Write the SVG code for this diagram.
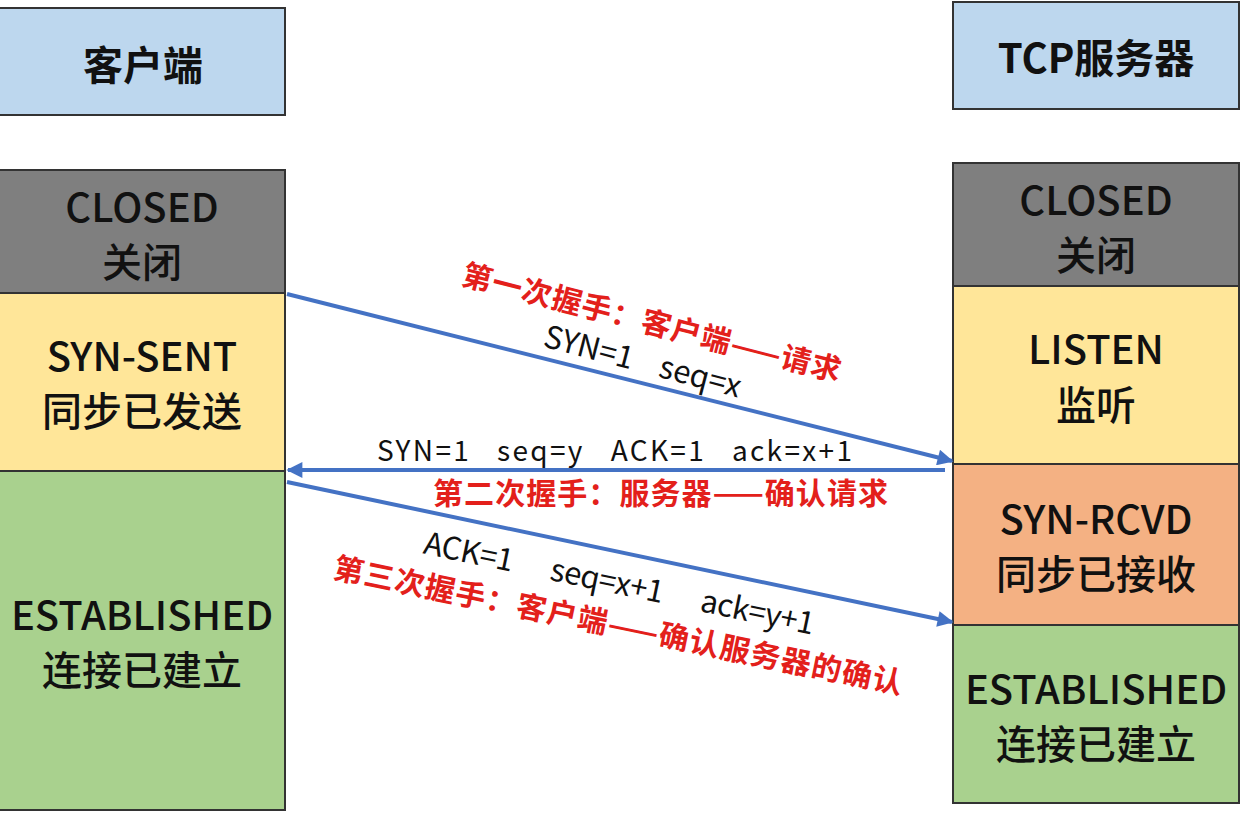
<svg xmlns="http://www.w3.org/2000/svg" width="1242" height="818" viewBox="0 0 1242 818">
<style>
.box{stroke:#333;stroke-width:2}
.hdr{fill:#BDD7EE}
.closed{fill:#7F7F7F}
.yel{fill:#FFE699}
.grn{fill:#A9D18E}
.org{fill:#F4B183}
.t{font-family:"Noto Sans CJK SC","Noto Sans",sans-serif;font-size:40px;font-weight:500;fill:#111;text-anchor:middle}
.h{font-size:40px;font-weight:600}
.b{font-family:"Noto Sans CJK SC","Noto Sans",sans-serif;font-size:28px;fill:#111}
.b30{font-size:31px}
.r{font-family:"Noto Sans CJK SC",sans-serif;font-size:30px;font-weight:bold;fill:#E3201B}
.arr{stroke:#4472C4;stroke-width:4;fill:none;marker-end:url(#ah)}
</style>
<defs>
<marker id="ah" viewBox="0 0 10 10" refX="9" refY="5" markerWidth="5" markerHeight="4" orient="auto" markerUnits="strokeWidth">
<path d="M0,0 L10,5 L0,10 Z" fill="#4472C4"/>
</marker>
</defs>
<rect width="1242" height="818" fill="#fff"/>
<g id="client-header"><rect class="box hdr" x="-2" y="8" width="287" height="107"/><text class="t h" x="143" y="80">客户端</text></g>
<g id="server-header"><rect class="box hdr" x="953" y="2" width="286" height="107"/><text class="t h" x="1096" y="73">TCP服务器</text></g>
<g id="client-closed"><rect class="box closed" x="-2" y="170" width="287" height="123"/><text class="t" x="142" y="222">CLOSED</text><text class="t" x="142" y="277">关闭</text></g>
<g id="client-synsent"><rect class="box yel" x="-2" y="293" width="287" height="178"/><text class="t" x="142" y="371">SYN-SENT</text><text class="t" x="142" y="426">同步已发送</text></g>
<g id="client-established"><rect class="box grn" x="-2" y="471" width="287" height="339"/><text class="t" x="142" y="630">ESTABLISHED</text><text class="t" x="142" y="685">连接已建立</text></g>
<g id="server-closed"><rect class="box closed" x="953" y="163" width="286" height="123"/><text class="t" x="1096" y="215">CLOSED</text><text class="t" x="1096" y="270">关闭</text></g>
<g id="server-listen"><rect class="box yel" x="953" y="286" width="286" height="178"/><text class="t" x="1096" y="364">LISTEN</text><text class="t" x="1096" y="420">监听</text></g>
<g id="server-synrcvd"><rect class="box org" x="953" y="464" width="286" height="161"/><text class="t" x="1096" y="534">SYN-RCVD</text><text class="t" x="1096" y="589">同步已接收</text></g>
<g id="server-established"><rect class="box grn" x="953" y="625" width="286" height="178"/><text class="t" x="1096" y="704">ESTABLISHED</text><text class="t" x="1096" y="759">连接已建立</text></g>
<g id="connectors">
<line class="arr" x1="287" y1="294" x2="952" y2="461"/>
<line class="arr" x1="945" y1="470" x2="288" y2="470"/>
<line class="arr" x1="287" y1="482" x2="952" y2="622"/>
</g>
<g id="labels">
<text class="r" transform="translate(649,333) rotate(14.5)" text-anchor="middle" textLength="390" lengthAdjust="spacing">第一次握手：客户端——请求</text>
<text class="b b30" transform="translate(640,372) rotate(14.7)" text-anchor="middle" xml:space="preserve">SYN=1    seq=x</text>
<text class="b" x="377" y="461" textLength="475" lengthAdjust="spacing" xml:space="preserve">SYN=1   seq=y   ACK=1   ack=x+1</text>
<text class="r" x="433" y="504" textLength="455" lengthAdjust="spacing">第二次握手：服务器——确认请求</text>
<text class="b b30" transform="translate(617,594) rotate(11.8)" text-anchor="middle" textLength="398" lengthAdjust="spacing" xml:space="preserve">ACK=1      seq=x+1      ack=y+1</text>
<text class="r" transform="translate(616,636) rotate(11.6)" text-anchor="middle" textLength="580" lengthAdjust="spacing">第三次握手：客户端——确认服务器的确认</text>
</g>
</svg>
